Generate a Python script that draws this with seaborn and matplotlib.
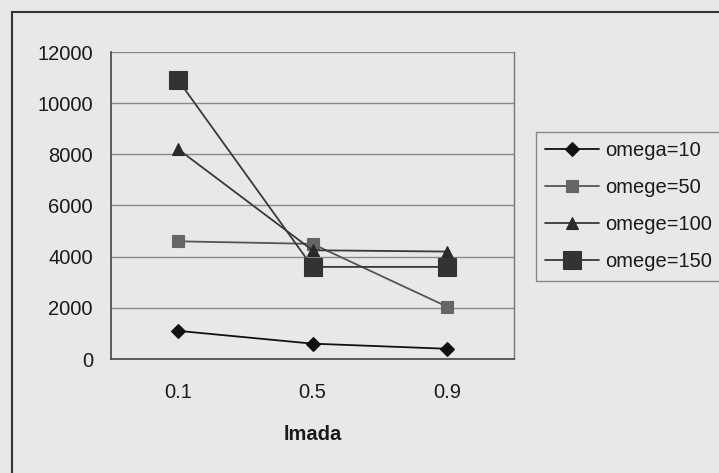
import matplotlib
matplotlib.use("Agg")
import matplotlib.pyplot as plt
from matplotlib.patches import Rectangle
from matplotlib.ticker import FixedLocator
import seaborn as sns
import pandas as pd

# Data
lmada = ["0.1", "0.5", "0.9"]
omega_10 = [1100, 600, 400]
omege_50 = [4600, 4500, 2050]
omege_100 = [8200, 4250, 4200]
omege_150 = [10900, 3600, 3600]

series = [
    ("omega=10", omega_10, "D", 7.0, "#111111", "#111111"),
    ("omege=50", omege_50, "s", 8.5, "#666666", "#555555"),
    ("omege=100", omege_100, "^", 8.0, "#2a2a2a", "#3a3a3a"),
    ("omege=150", omege_150, "s", 13.5, "#333333", "#3a3a3a"),
]

sns.set_theme(style="white")
bg = "#e8e8e8"
plt.rcParams["font.family"] = ["Liberation Sans", "DejaVu Sans"]

fig = plt.figure(figsize=(7.19, 4.73), dpi=100, facecolor=bg)
ax = fig.add_axes([111 / 719, 1 - 359 / 473, (514 - 111) / 719, (359 - 52) / 473])
ax.set_facecolor(bg)

for name, vals, marker, ms, mcol, lcol in series:
    df = pd.DataFrame({"lmada": lmada, "value": vals})
    sns.lineplot(data=df, x="lmada", y="value", ax=ax, sort=False,
                 color=lcol, linewidth=1.3, marker=marker, markersize=ms,
                 markerfacecolor=mcol, markeredgecolor=mcol,
                 markeredgewidth=0.8, label=name)

ax.set_xlim(-0.5, 2.5)
ax.set_ylim(0, 12000)
ax.set_yticks(range(0, 12001, 2000))
ax.yaxis.grid(True, color="#8a8a8a", linewidth=1.0)
ax.set_axisbelow(True)

for side in ["left", "bottom"]:
    ax.spines[side].set_color("#444444")
    ax.spines[side].set_linewidth(1.2)
ax.spines["top"].set_visible(False)
ax.spines["right"].set_color("#777777")
ax.spines["right"].set_linewidth(1.0)

ax.tick_params(axis="y", which="major", direction="out", length=4, width=1,
               color="#444444", pad=9, labelsize=14.5, labelcolor="#1a1a1a")
ax.tick_params(axis="x", which="major", length=0, pad=17, labelsize=14.5,
               labelcolor="#1a1a1a")
ax.xaxis.set_minor_locator(FixedLocator([-0.5, 0.5, 1.5, 2.5]))
ax.tick_params(axis="x", which="minor", direction="out", length=4, width=1,
               color="#444444")

ax.set_xlabel("lmada", fontsize=14.5, fontweight="bold", color="#1a1a1a",
              labelpad=17)
ax.set_ylabel("")

handles, labels = ax.get_legend_handles_labels()
ax.legend(handles, labels, loc="upper left",
          bbox_to_anchor=(536 / 719, 1 - 132 / 473),
          bbox_transform=fig.transFigure, frameon=True, fancybox=False,
          facecolor=bg, edgecolor="#888888", framealpha=1,
          fontsize=14.5, handlelength=2.7, handletextpad=0.3,
          labelspacing=0.9, borderpad=0.45, borderaxespad=0)
leg = ax.get_legend()
leg.get_frame().set_linewidth(1.0)
for t in leg.get_texts():
    t.set_color("#1a1a1a")

# Chart border running past the right and bottom edges
fig.patches.append(Rectangle((12 / 719, -0.2), 2.0, 1.2 - 12 / 473,
                             transform=fig.transFigure, fill=False,
                             edgecolor="#333333", linewidth=1.5))

fig.savefig("out.png", dpi=100, facecolor=bg)
